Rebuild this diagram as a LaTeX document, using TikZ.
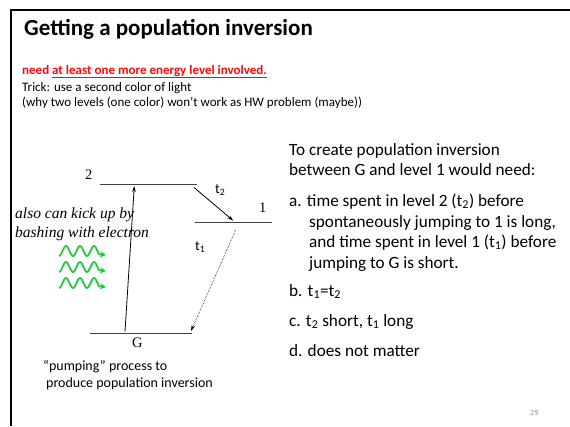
\documentclass[tikz,border=0pt]{standalone}
\usepackage{fontspec}
\setmainfont{Carlito}
\newfontfamily\tmsfont{Liberation Serif}
\usetikzlibrary{arrows.meta}

\definecolor{slidered}{RGB}{250,10,10}
\definecolor{pumpgreen}{RGB}{30,200,60}

\begin{document}
\begin{tikzpicture}[x=1pt,y=-1pt,
  every node/.style={inner sep=0pt,anchor=base west},
  small/.style={font=\fontsize{13}{15}\selectfont},
  body/.style={font=\fontsize{17.2}{20}\selectfont},
  lbl/.style={font=\tmsfont\fontsize{14.5}{17}\selectfont},
  level/.style={line width=1pt,black!75},
  tip/.style={-{Stealth[length=6pt,width=3.5pt]}}]
  \useasboundingbox (0,0) rectangle (570,426);
  % slide frame
  \draw[line width=2pt] (11,426) -- (11,9.5) -- (570,9.5);
  \node[font=\bfseries\fontsize{23}{27}\selectfont] (title) at (24,35) {Getting a population inversion};

  % header lines
  \node[small,font=\bfseries\fontsize{13}{15}\selectfont,text=slidered] (need) at (22,74)
    {need \underline{at least one more energy level involved.}};
  \node[small] (trick) at (22,91) {Trick: use a second color of light};
  \node[small] (why) at (22,106) {(why two levels (one color) won’t work as HW problem (maybe))};

  % energy levels
  \coordinate (l2a) at (100,184.5);  \coordinate (l2b) at (197,184.5);
  \coordinate (l1a) at (195,222.5);  \coordinate (l1b) at (272,222.5);
  \coordinate (lga) at (90,333.5);   \coordinate (lgb) at (192,333.5);
  \draw[level] (l2a) -- (l2b);
  \draw[level] (l1a) -- (l1b);
  \draw[level] (lga) -- (lgb);
  \node[lbl] (n2) at (85,179) {2};
  \node[lbl] (n1) at (259,212) {1};
  \node[lbl] (ng) at (132,347.5) {G};

  % transitions
  \coordinate (pumpS) at (125,331.5);  \coordinate (pumpE) at (134.3,186);
  \coordinate (decS) at (194.3,187.7); \coordinate (decE) at (233.3,220.7);
  \coordinate (dotS) at (235.7,230);   \coordinate (dotE) at (191,331);
  \draw[tip,line width=0.8pt] (pumpS) -- (pumpE);
  \draw[tip,line width=0.8pt] (decS) -- (decE);
  \draw[tip,line width=0.6pt,densely dotted] (dotS) -- (dotE);
  \node[font=\fontsize{14}{16}\selectfont] (t2) at (215,193) {t\textsubscript{2}};
  \node[font=\fontsize{14}{16}\selectfont] (t1) at (195,250) {t\textsubscript{1}};

  % electron kick
  \node[font=\tmsfont\itshape\fontsize{15.5}{18}\selectfont] (kick1) at (15,218) {also can kick up by};
  \node[font=\tmsfont\itshape\fontsize{15.5}{18}\selectfont] (kick2) at (15,237) {bashing with electron};

  % pump light
  \foreach \yb in {256,272,288}{
    \draw[pumpgreen,line width=1.7pt,-{Stealth[length=6pt,width=6pt]}]
      plot[domain=0:40,samples=60,smooth] ({59+\x},{\yb-5*(1-cos(360*\x/14))})
      -- (106,\yb-1);
  }
  \node[font=\fontsize{14}{16}\selectfont] (pump1) at (43,370) {“pumping” process to};
  \node[font=\fontsize{14}{16}\selectfont] (pump2) at (46,387) {produce population inversion};

  % question
  \foreach \xx/\yy/\txt [count=\i] in {
      289/155/{To create population inversion},
      289/175/{between G and level 1 would need:},
      289/206/{a. time spent in level 2 (t\textsubscript{2}) before},
      309/227/{spontaneously jumping to 1 is long,},
      309/247/{and time spent in level 1 (t\textsubscript{1}) before},
      309/268/{jumping to G is short.},
      289/296/{b. t\textsubscript{1}=t\textsubscript{2}},
      289/326/{c. t\textsubscript{2} short, t\textsubscript{1} long},
      289/356/{d. does not matter}}{
    \node[body] (q\i) at (\xx,\yy) {\txt};
  }
  \node[font=\fontsize{8}{10}\selectfont,text=black!45] (page) at (530,415) {29};
\end{tikzpicture}
\end{document}
